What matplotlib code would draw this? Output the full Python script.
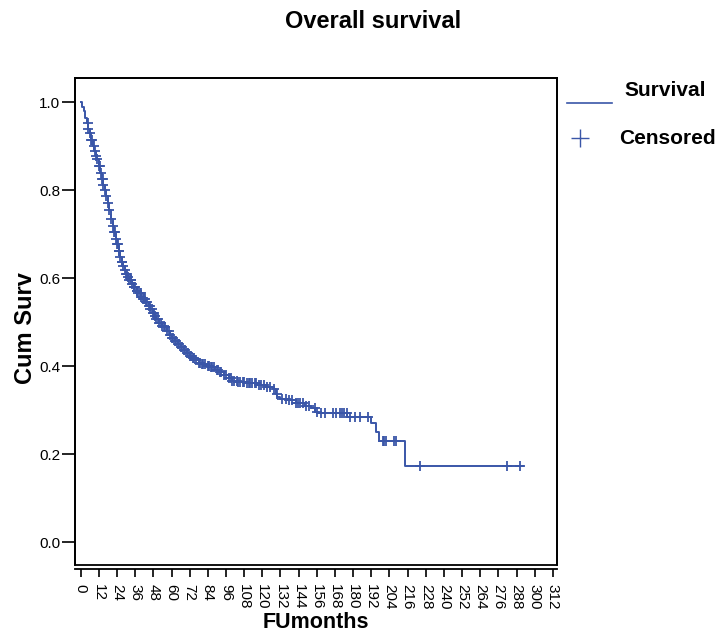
import numpy as np
import matplotlib.pyplot as plt
from matplotlib.lines import Line2D

plt.rcParams['font.family'] = ['Liberation Sans', 'DejaVu Sans']

# Kaplan-Meier step levels (months, cumulative survival)
event_months = [0, 1, 2, 3, 4, 5, 6, 7, 8, 9, 10, 11, 12, 13, 14, 15, 16, 17,
                18, 19, 20, 21, 22, 23, 24, 25, 26, 27, 28, 29, 30, 31, 32,
                34, 35, 37, 38, 40, 41, 43, 45, 46, 48, 49, 50, 52, 54, 56,
                57, 59, 60, 62, 64, 66, 68, 70, 72, 74, 76, 78, 80, 83, 86,
                89, 92, 95, 98, 100, 104, 110, 117, 122, 127, 129, 130, 132,
                137, 142, 148, 152, 155, 157, 176, 192, 195, 197, 214]
surv = [1.0, 0.99, 0.98, 0.965, 0.952, 0.94, 0.93, 0.915, 0.90, 0.888,
        0.878, 0.870, 0.855, 0.840, 0.825, 0.812, 0.800, 0.786, 0.770,
        0.755, 0.735, 0.718, 0.705, 0.690, 0.678, 0.662, 0.648, 0.637,
        0.627, 0.618, 0.610, 0.602, 0.595, 0.587, 0.580, 0.572, 0.566,
        0.558, 0.552, 0.545, 0.537, 0.530, 0.522, 0.515, 0.508, 0.499,
        0.492, 0.488, 0.480, 0.471, 0.465, 0.458, 0.450, 0.444, 0.437,
        0.430, 0.424, 0.418, 0.413, 0.408, 0.404, 0.400, 0.397, 0.392,
        0.387, 0.381, 0.374, 0.366, 0.363, 0.361, 0.357, 0.353, 0.349,
        0.336, 0.330, 0.326, 0.322, 0.317, 0.310, 0.304, 0.296, 0.293,
        0.285, 0.271, 0.251, 0.231, 0.173]
last_followup = 292

# censored observations (months)
censored = [4.5, 5, 6, 7, 7.5, 8.5, 9.5, 10, 11, 12, 12.5, 13.5, 14, 14.5,
            15, 16, 17, 18, 19, 20, 21, 22, 22.5, 23, 24, 24.5, 25, 25.5, 26,
            27, 27.5, 28, 29, 30, 30.5, 31, 32, 33, 33.5, 34, 35, 35.5, 36,
            37, 37.5, 38, 39, 39.5, 40, 41, 42, 42.5, 43, 44, 45, 45.5, 46,
            47, 48, 48.5, 49, 50, 51, 52, 53, 54, 55, 56, 57, 58, 59, 60, 61,
            62, 63, 64, 65, 66, 67, 68, 69, 70, 71, 72, 73, 74, 75, 76, 78,
            79, 80, 81, 82, 84, 85, 86, 87, 88, 90, 91, 92, 93, 95, 96, 98,
            99, 100, 101, 103, 104, 105, 107, 108, 110, 111, 112, 113, 115,
            116, 118, 119, 121, 123, 125, 128, 129.5, 133, 135.6, 137.6,
            139.6, 142, 143.6, 145, 147, 149, 150.8, 154.8, 156, 159, 161.4,
            166.6, 169, 171.3, 172.4, 174, 175.7, 177.9, 181.2, 184.5, 189.5,
            199.5, 200.3, 202, 207, 208.3, 224, 281.6, 290.2]

x_ticks = list(range(0, 313, 12))
y_ticks = [0.0, 0.2, 0.4, 0.6, 0.8, 1.0]

blue = '#3a56a8'

fig = plt.figure(figsize=(7.21, 6.37), dpi=100)
ax = fig.add_axes([0.104, 0.113, 0.6685, 0.7645])

# offset bottom axis first (this resets tick objects)
ax.spines['bottom'].set_position(('outward', 3))
for sp in ax.spines.values():
    sp.set_linewidth(1.3)
ax.patch.set_edgecolor('black')
ax.patch.set_linewidth(1.3)

t = np.array(event_months + [last_followup], dtype=float)
s = np.array(surv + [surv[-1]])
ax.step(t, s, where='post', color=blue, lw=1.4)

idx = np.searchsorted(np.array(event_months, dtype=float), censored, side='right') - 1
cens_y = np.array(surv)[idx]
ax.plot(censored, cens_y, ls='none', marker='+', ms=7.5, mew=1.3, color=blue)

ax.set_xlim(-3.8, 314.7)
ax.set_ylim(-0.052, 1.055)
ax.set_xticks(x_ticks)
ax.set_xticklabels([str(v) for v in x_ticks], rotation=-90, fontsize=11)
ax.set_yticks(y_ticks)
ax.set_yticklabels([f"{v:.1f}" for v in y_ticks], fontsize=11)
ax.tick_params(axis='x', length=5.5, width=1.2, pad=5)
ax.tick_params(axis='y', length=9.5, width=1.2, pad=1)

ax.set_xlabel("FUmonths", fontsize=15.5, fontweight='bold', labelpad=2)
ax.set_ylabel("Cum Surv", fontsize=17, fontweight='bold')
ax.yaxis.set_label_coords(-0.078, 0.487)

fig.text(373 / 721, 1 - 22 / 637, "Overall survival", ha='center', va='center',
         fontsize=17, fontweight='bold')

# legend drawn beside the frame
fig.add_artist(Line2D([567 / 721, 612 / 721], [1 - 103 / 637, 1 - 103 / 637],
                      color=blue, lw=1.2))
fig.text(624 / 721, 1 - 90 / 637, "Survival", ha='left', va='center',
         fontsize=15, fontweight='bold')
fig.add_artist(Line2D([580 / 721], [1 - 138 / 637], marker='+', ms=13,
                      mew=1.0, color=blue, ls='none'))
fig.text(619 / 721, 1 - 139 / 637, "Censored", ha='left', va='center',
         fontsize=15, fontweight='bold')

fig.savefig("out.png", dpi=100)
